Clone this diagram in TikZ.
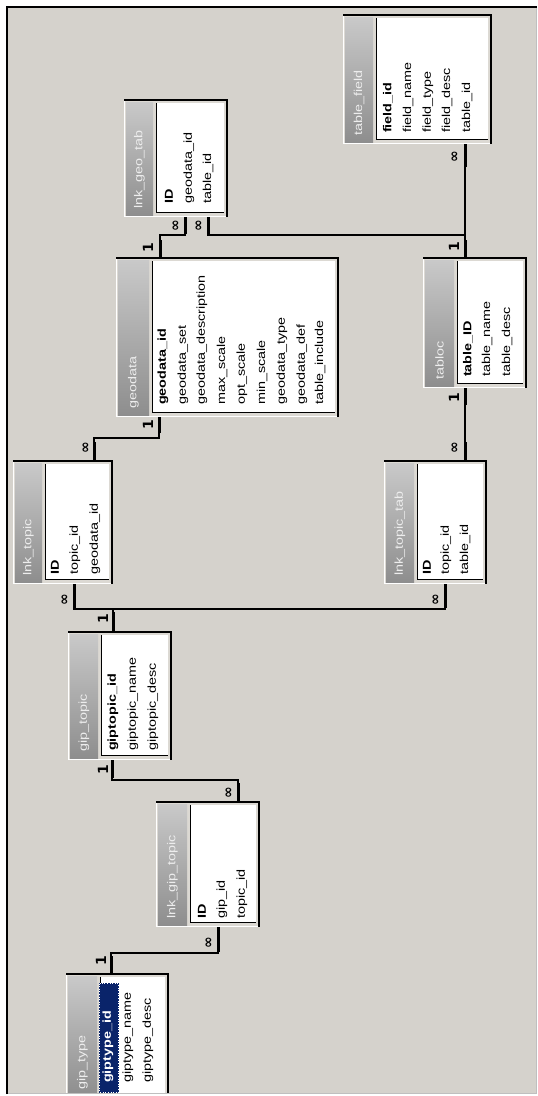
\documentclass[tikz,border=0pt]{standalone}
\usepackage{fontspec}
\setmainfont{Liberation Sans}
\newfontfamily\symfont{DejaVu Sans}
\definecolor{winbg}{HTML}{D5D2CC}
\definecolor{boxface}{HTML}{DCD9D3}
\definecolor{tbtop}{HTML}{C9C9C9}
\definecolor{tbbot}{HTML}{8E8E8E}
\definecolor{navyhl}{HTML}{0A246A}
\definecolor{titletxtc}{HTML}{EDEDED}
\newcommand\tbl[7]{% #1 name, #2 x1, #3 y1, #4 x2, #5 y2, #6 title-bar right x, #7 title
  \fill[boxface] (#2,#3) rectangle (#4,#5);
  \draw[white, line width=1] (#2+0.5,#5) -- (#2+0.5,#3+1);
  \draw[white, line width=1] (#2,#5-0.5) -- (#4,#5-0.5);
  \draw[black, line width=2] (#2,#3+1) -- (#4-1,#3+1) -- (#4-1,#5);
  \shade[top color=tbtop, bottom color=tbbot] (#2+2,#3+3) rectangle (#6,#5-2);
  \fill[white] (#6+3,#3+4) rectangle (#4-4,#5-4);
  \draw[black, line width=1.3] (#6+3.5,#3+4) -- (#6+3.5,#5-4.5) -- (#4-4,#5-4.5);
  \node[titletxt] (#1) at ({(#2+#6)/2+1},#5-8) {\scalebox{1.25}[1]{#7}};
}
\newcommand\fld[4]{\node[fldtxt] (#1) at (#2,#3) {\scalebox{1.25}[1]{#4}};}
\begin{document}
\begin{tikzpicture}[x=1pt,y=-1pt,
  fldtxt/.style={anchor=west, rotate=90, inner sep=0pt, font=\fontsize{11.5}{12}\selectfont, text=black},
  titletxt/.style={anchor=west, rotate=90, inner sep=0pt, font=\fontsize{11.5}{12}\selectfont, text=titletxtc},
  rel/.style={draw=black, line width=1.1},
  stub/.style={draw=black, line width=3},
  card/.style={rotate=90, inner sep=0pt, font=\symfont\bfseries\fontsize{14}{14}\selectfont}]
\useasboundingbox (0,0) rectangle (538,1096);
\fill[white] (0,0) rectangle (538,1096);
\fill[winbg] (6,6) rectangle (537,1094);
\draw[gray!50, line width=1] (536,7) -- (536,1093) -- (7,1093);

% ---- tables ----
\tbl{tf}{343}{14}{492}{144}{373}{table\_field}
\fld{tf1}{388}{133}{\textbf{field\_id}}
\fld{tf2}{408}{133}{field\_name}
\fld{tf3}{428}{133}{field\_type}
\fld{tf4}{447}{133}{field\_desc}
\fld{tf5}{467}{133}{table\_id}

\tbl{lgt}{124}{99}{228}{217}{153}{lnk\_geo\_tab}
\fld{lgt1}{169}{204}{\textbf{ID}}
\fld{lgt2}{189}{204}{geodata\_id}
\fld{lgt3}{208}{204}{table\_id}

\tbl{geo}{116}{257}{339}{417}{149}{geodata}
\fld{geo1}{163}{405}{\textbf{geodata\_id}}
\fld{geo2}{183}{405}{geodata\_set}
\fld{geo3}{202}{405}{geodata\_description}
\fld{geo4}{222}{405}{max\_scale}
\fld{geo5}{242}{405}{opt\_scale}
\fld{geo6}{262}{405}{min\_scale}
\fld{geo7}{282}{405}{geodata\_type}
\fld{geo8}{302}{405}{geodata\_def}
\fld{geo9}{320}{405}{table\_include}

\tbl{tab}{423}{257}{527}{388}{454}{tabloc}
\fld{tab1}{468}{377}{\textbf{table\_ID}}
\fld{tab2}{487}{377}{table\_name}
\fld{tab3}{507}{377}{table\_desc}

\tbl{lt}{13}{460}{113}{584}{42}{lnk\_topic}
\fld{lt1}{55}{575}{\textbf{ID}}
\fld{lt2}{75}{575}{topic\_id}
\fld{lt3}{95}{575}{geodata\_id}

\tbl{ltt}{384}{460}{487}{584}{414}{lnk\_topic\_tab}
\fld{ltt1}{427}{575}{\textbf{ID}}
\fld{ltt2}{446}{575}{topic\_id}
\fld{ltt3}{465}{575}{table\_id}

\tbl{gt}{68}{631}{172}{760}{98}{gip\_topic}
\fld{gt1}{113}{751}{\textbf{giptopic\_id}}
\fld{gt2}{133}{751}{giptopic\_name}
\fld{gt3}{153}{751}{giptopic\_desc}

\tbl{lgp}{156}{801}{260}{927}{187}{lnk\_gip\_topic}
\fld{lgp1}{202}{919}{\textbf{ID}}
\fld{lgp2}{222}{919}{gip\_id}
\fld{lgp3}{242}{919}{topic\_id}

\tbl{gty}{66}{973}{169}{1098}{97}{gip\_type}
\fill[navyhl] (99,983) rectangle (119,1093);
\draw[white, dotted, line width=0.6] (99.5,983.5) rectangle (118.5,1092);
\node[fldtxt, text=white] (gty1) at (108,1083) {\scalebox{1.25}[1]{\textbf{giptype\_id}}};
\fld{gty2}{128}{1083}{giptype\_name}
\fld{gty3}{148}{1083}{giptype\_desc}

% outer frame over the cut box
\fill[white] (0,1094) rectangle (538,1096);
\draw[gray!50, line width=1] (7,1093) -- (536,1093);
\draw[black, line width=2.2] (7,1094) -- (7,7) -- (537,7);

% ---- relationships ----
\coordinate (tf-b) at (465,144);
\coordinate (tab-t) at (465,257);
\coordinate (tab-b) at (465,388);
\coordinate (lgt-b1) at (185,217);
\coordinate (lgt-b2) at (208,217);
\coordinate (geo-t) at (160,257);
\coordinate (geo-b) at (159,417);
\coordinate (lt-t) at (94,460);
\coordinate (ltt-t) at (465,460);
\coordinate (lt-b) at (74,584);
\coordinate (ltt-b) at (445,584);
\coordinate (gt-t) at (113,631);
\coordinate (gt-b) at (112,760);
\coordinate (lgp-t) at (238,801);
\coordinate (lgp-b) at (218,927);
\coordinate (gty-t) at (111,973);

\draw[rel] (tf-b) -- (tab-t);
\draw[rel] (lgt-b1) -- ++(0,18) -| (geo-t);
\draw[rel] (lgt-b2) -- ++(0,18) -| (tab-t);
\draw[rel] (geo-b) -- ++(0,21) -| (lt-t);
\draw[rel] (tab-b) -- (ltt-t);
\draw[rel] (lt-b) -- ++(0,25) -| (ltt-b);
\draw[rel] (gt-t) -- ++(0,-22);
\draw[rel] (gt-b) -- ++(0,20) -| (lgp-t);
\draw[rel] (lgp-b) -- ++(0,26) -| (gty-t);

\draw[stub] (tf-b) -- ++(0,23);
\draw[stub] (tab-t) -- ++(0,-17);
\draw[stub] (lgt-b1) -- ++(0,17);
\draw[stub] (lgt-b2) -- ++(0,17);
\draw[stub] (geo-t) -- ++(0,-17);
\draw[stub] (geo-b) -- ++(0,16);
\draw[stub] (lt-t) -- ++(0,-18);
\draw[stub] (tab-b) -- ++(0,17);
\draw[stub] (ltt-t) -- ++(0,-18);
\draw[stub] (lt-b) -- ++(0,24);
\draw[stub] (ltt-b) -- ++(0,24);
\draw[stub] (gt-t) -- ++(0,-19);
\draw[stub] (gt-b) -- ++(0,18);
\draw[stub] (lgp-t) -- ++(0,-18);
\draw[stub] (lgp-b) -- ++(0,25);
\draw[stub] (gty-t) -- ++(0,-17);

\node[card] (c1) at (455,157) {∞};
\node[card] (c2) at (454,247) {1};
\node[card] (c3) at (176,226) {∞};
\node[card] (c4) at (199,226) {∞};
\node[card] (c5) at (148,248) {1};
\node[card] (c6) at (148,425) {1};
\node[card] (c7) at (86,448) {∞};
\node[card] (c8) at (454,398) {1};
\node[card] (c9) at (455,448) {∞};
\node[card] (c10) at (65,600) {∞};
\node[card] (c11) at (436,600) {∞};
\node[card] (c12) at (103,619) {1};
\node[card] (c13) at (103,770) {1};
\node[card] (c14) at (229,793) {∞};
\node[card] (c15) at (209,943) {∞};
\node[card] (c16) at (101,961) {1};
\end{tikzpicture}
\end{document}
